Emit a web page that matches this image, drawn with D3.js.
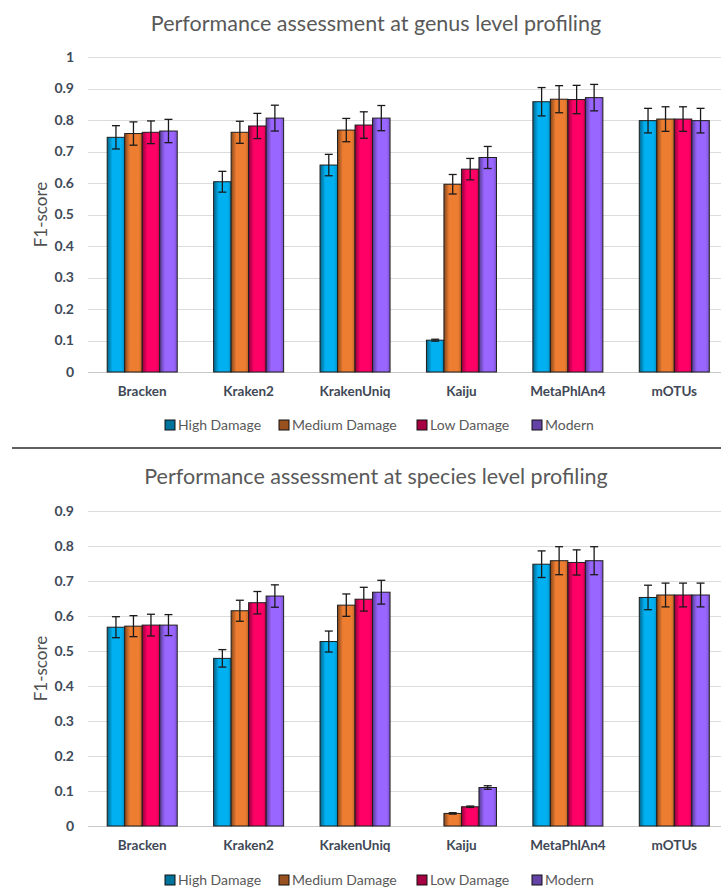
<!DOCTYPE html>
<html>
<head>
<meta charset="utf-8">
<script src="https://cdn.jsdelivr.net/npm/d3@7"></script>
<style>
  html, body { margin: 0; padding: 0; background: #fff; }
  svg { display: block; }
  text { font-family: Lato, "Open Sans", sans-serif; }
</style>
</head>
<body>
<svg id="chart" width="721" height="889"></svg>
<script>
// Profilers on the x axis and the four damage levels of the simulated reads
const categories = ["Bracken", "Kraken2", "KrakenUniq", "Kaiju", "MetaPhlAn4", "mOTUs"];
const seriesNames = ["High Damage", "Medium Damage", "Low Damage", "Modern"];
const seriesColors = ["#00B0F0", "#ED7D31", "#FF0066", "#9966FF"];

// Genus level F1-scores (one array per damage level, in category order)
const genusHighDamage   = [0.745, 0.604, 0.657, 0.101, 0.858, 0.798];
const genusMediumDamage = [0.757, 0.761, 0.768, 0.596, 0.866, 0.803];
const genusLowDamage    = [0.761, 0.781, 0.784, 0.644, 0.865, 0.803];
const genusModern       = [0.765, 0.806, 0.806, 0.681, 0.871, 0.798];
// Genus level error bar half-widths
const genusHighDamageErr   = [0.037, 0.033, 0.034, 0.003, 0.045, 0.039];
const genusMediumDamageErr = [0.037, 0.035, 0.037, 0.031, 0.043, 0.039];
const genusLowDamageErr    = [0.036, 0.040, 0.042, 0.034, 0.045, 0.039];
const genusModernErr       = [0.037, 0.041, 0.040, 0.035, 0.042, 0.039];

// Species level F1-scores
const speciesHighDamage   = [0.568, 0.479, 0.527, 0.000, 0.748, 0.653];
const speciesMediumDamage = [0.571, 0.615, 0.631, 0.036, 0.758, 0.660];
const speciesLowDamage    = [0.574, 0.638, 0.648, 0.055, 0.753, 0.660];
const speciesModern       = [0.574, 0.657, 0.668, 0.110, 0.758, 0.660];
// Species level error bar half-widths
const speciesHighDamageErr   = [0.030, 0.025, 0.030, 0.000, 0.038, 0.035];
const speciesMediumDamageErr = [0.030, 0.030, 0.032, 0.002, 0.040, 0.034];
const speciesLowDamageErr    = [0.031, 0.032, 0.034, 0.002, 0.036, 0.034];
const speciesModernErr       = [0.030, 0.032, 0.034, 0.005, 0.040, 0.034];

// Y axis tick values of the two panels
const genusTicks   = [0, 0.1, 0.2, 0.3, 0.4, 0.5, 0.6, 0.7, 0.8, 0.9, 1];
const speciesTicks = [0, 0.1, 0.2, 0.3, 0.4, 0.5, 0.6, 0.7, 0.8, 0.9];

const svg = d3.select("#chart");
const W = 721;

// Shaded bar fills: darker left edge, brighter body, slightly darker right edge
const defs = svg.append("defs");
seriesColors.forEach((c, i) => {
  const g = defs.append("linearGradient").attr("id", "grad" + i)
    .attr("x1", "0%").attr("x2", "100%").attr("y1", "0%").attr("y2", "0%");
  const base = d3.color(c);
  g.append("stop").attr("offset", "0%").attr("stop-color", base.darker(1.6));
  g.append("stop").attr("offset", "30%").attr("stop-color", base);
  g.append("stop").attr("offset", "80%").attr("stop-color", base);
  g.append("stop").attr("offset", "100%").attr("stop-color", base.darker(0.6));
});

function drawPanel(cfg) {
  const g = svg.append("g");
  const y = d3.scaleLinear().domain([0, cfg.yMax]).range([cfg.y0, cfg.yTop]);
  const x = d3.scaleBand().domain(categories).range([89, 727.5])
    .paddingInner(0.342).paddingOuter(0.171);
  const xs = d3.scaleBand().domain(seriesNames).range([0, x.bandwidth()]);

  // Title
  g.append("text")
    .attr("x", 376).attr("y", cfg.titleY)
    .attr("text-anchor", "middle")
    .attr("fill", "#595959")
    .style("font-size", "21.5px")
    .text(cfg.title);

  // Gridlines
  g.append("g").selectAll("line").data(cfg.ticks).join("line")
    .attr("x1", 88).attr("x2", W)
    .attr("y1", d => Math.round(y(d)) + 0.5).attr("y2", d => Math.round(y(d)) + 0.5)
    .attr("stroke", d => d === 0 ? "#C8C8C8" : "#DCDCDC")
    .attr("stroke-width", 1.2);

  // Y axis labels via d3 axis (domain and tick marks hidden)
  const yAxis = g.append("g").attr("transform", "translate(79,0)")
    .call(d3.axisLeft(y).tickValues(cfg.ticks).tickSize(0).tickPadding(5)
      .tickFormat(d => d3.format("")(+d.toFixed(1))));
  yAxis.select(".domain").remove();
  yAxis.selectAll("text")
    .attr("fill", "#404A58")
    .style("font-family", "Lato, sans-serif")
    .style("font-size", "14px")
    .style("font-weight", "700");

  // Y axis title
  g.append("text")
    .attr("transform", `translate(47,${(cfg.y0 + cfg.yTop) / 2}) rotate(-90)`)
    .attr("text-anchor", "middle")
    .attr("fill", "#505050")
    .style("font-size", "17px")
    .text("F1-score");

  // Bars
  const rows = [];
  cfg.values.forEach((vals, si) => {
    vals.forEach((v, ci) => rows.push({ cat: categories[ci], s: seriesNames[si], si, v, e: cfg.errors[si][ci] }));
  });
  const barsG = g.append("g");
  barsG.selectAll("rect").data(rows.filter(d => d.v > 0)).join("rect")
    .attr("x", d => x(d.cat) + xs(d.s))
    .attr("width", xs.bandwidth())
    .attr("y", d => y(d.v))
    .attr("height", d => y(0) - y(d.v))
    .attr("fill", d => `url(#grad${d.si})`)
    .attr("stroke", "#1E1E1E")
    .attr("stroke-width", 1);

  // Error bars
  const errG = g.append("g").attr("stroke", "#1A1A1A").attr("stroke-width", 1.3);
  rows.filter(d => d.v > 0).forEach(d => {
    const cx = x(d.cat) + xs(d.s) + xs.bandwidth() / 2;
    const y1 = y(d.v + d.e), y2 = y(d.v - d.e);
    errG.append("line").attr("x1", cx).attr("x2", cx).attr("y1", y1).attr("y2", y2);
    errG.append("line").attr("x1", cx - 4).attr("x2", cx + 4).attr("y1", y1).attr("y2", y1);
    errG.append("line").attr("x1", cx - 4).attr("x2", cx + 4).attr("y1", y2).attr("y2", y2);
  });

  // Category labels via d3 axis
  const xAxis = g.append("g").attr("transform", `translate(0,${cfg.y0})`)
    .call(d3.axisBottom(x).tickSize(0).tickPadding(14));
  xAxis.select(".domain").remove();
  xAxis.selectAll("text")
    .attr("fill", "#3F4856")
    .style("font-family", "Lato, sans-serif")
    .style("font-size", "13.5px")
    .style("font-weight", "700");

  // Legend
  const legendX = [165, 279, 417, 532];
  const lg = g.append("g");
  seriesNames.forEach((name, i) => {
    const item = lg.append("g").attr("transform", `translate(${legendX[i]},${cfg.legendY})`);
    item.append("rect").attr("x", 0).attr("y", -5).attr("width", 10).attr("height", 10)
      .attr("fill", d3.color(seriesColors[i]).darker(1.2))
      .attr("stroke", "#111").attr("stroke-width", 1);
    item.append("text").attr("x", 13).attr("y", 0).attr("dy", "0.35em")
      .attr("fill", "#595959")
      .style("font-size", "14px")
      .text(name);
  });
}

drawPanel({
  title: "Performance assessment at genus level profiling",
  titleY: 31, yMax: 1, y0: 372, yTop: 57, ticks: genusTicks,
  values: [genusHighDamage, genusMediumDamage, genusLowDamage, genusModern],
  errors: [genusHighDamageErr, genusMediumDamageErr, genusLowDamageErr, genusModernErr],
  legendY: 425
});

// Separator between the panels
svg.append("line").attr("x1", 12).attr("x2", W).attr("y1", 448).attr("y2", 448)
  .attr("stroke", "#606060").attr("stroke-width", 2);

drawPanel({
  title: "Performance assessment at species level profiling",
  titleY: 484, yMax: 0.9, y0: 826, yTop: 511, ticks: speciesTicks,
  values: [speciesHighDamage, speciesMediumDamage, speciesLowDamage, speciesModern],
  errors: [speciesHighDamageErr, speciesMediumDamageErr, speciesLowDamageErr, speciesModernErr],
  legendY: 880
});
</script>
</body>
</html>
